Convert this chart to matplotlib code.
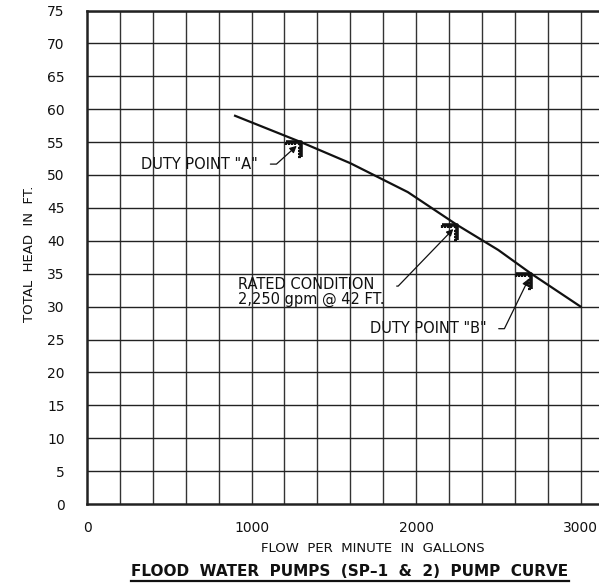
import matplotlib
matplotlib.use("Agg")
import matplotlib.pyplot as plt
from matplotlib.path import Path
from matplotlib.lines import Line2D

# --- DATA ---
flow_gpm = [900, 1100, 1300, 1600, 1950, 2250, 2500, 2700, 3000]
head_ft = [59.0, 57.0, 55.0, 51.8, 47.4, 42.4, 38.6, 35.0, 30.0]

point_names = ["DUTY POINT \"A\"", "RATED CONDITION\n2,250 gpm @ 42 FT.", "DUTY POINT \"B\""]
point_flow = [1300, 2250, 2700]
point_head = [55.0, 42.4, 35.0]

x_ticks = [0, 1000, 2000, 3000]
y_ticks = list(range(0, 80, 5))

# --- FIGURE ---
fig = plt.figure(figsize=(5.99, 5.87), dpi=100)
ax = fig.add_axes([87 / 599, 1 - 504 / 587, 1 - 87 / 599, (504 - 10.5) / 587])

ax.set_xlim(0, 3112)
ax.set_ylim(0, 75)

# grid every 200 gpm / 5 ft
for gx in range(200, 3200, 200):
    ax.axvline(gx, color="#333333", lw=1.0, zorder=1)
for gy in y_ticks[1:]:
    ax.axhline(gy, color="#222222", lw=1.0, zorder=1)

for side in ["left", "bottom", "top"]:
    ax.spines[side].set_linewidth(1.8)
    ax.spines[side].set_color("#222222")
ax.spines["right"].set_visible(False)

ax.set_xticks(x_ticks)
ax.set_yticks(y_ticks)
ax.tick_params(length=0, labelsize=10, colors="#111111")
ax.tick_params(axis="x", pad=12)
ax.tick_params(axis="y", pad=16)

# pump curve
ax.plot(flow_gpm, head_ft, color="#111111", lw=1.6, zorder=3)

# hatched corner marker at each point
corner = Path([(-1, 0), (0, 0), (0, -1)], [Path.MOVETO, Path.LINETO, Path.LINETO])
verts, codes = [], []
for k in range(5):
    t = -0.95 + k * 0.2
    verts += [(t, 0), (t, -0.18)]
    codes += [Path.MOVETO, Path.LINETO]
    verts += [(0, t), (-0.18, t)]
    codes += [Path.MOVETO, Path.LINETO]
hatch = Path(verts, codes)
for mk, mew in [(corner, 2.6), (hatch, 1.6)]:
    ax.plot(point_flow, point_head, ls="none", marker=mk, markersize=22,
            markeredgewidth=mew, markeredgecolor="#111111",
            markerfacecolor="none", zorder=4)

# leader notes: (text offset in pixels, relpos, angle of the slanted leg)
notes = [((-43, -22), (1, 0.5), 42),
         ((-73, -67), (1, 0.7), 46),
         ((-45, -55), (1, 0.5), 64)]
for name, fx, hy, (off, rel, ang) in zip(point_names, point_flow, point_head, notes):
    ax.annotate(name, xy=(fx, hy), xytext=off, textcoords="offset pixels",
                ha="right", va="center", ma="left", fontsize=10.5,
                linespacing=0.95, color="#111111", zorder=5,
                arrowprops=dict(arrowstyle="-|>", color="#111111", lw=0.9,
                                relpos=rel, shrinkA=7, shrinkB=4,
                                mutation_scale=10,
                                connectionstyle=f"angle,angleA=0,angleB={ang},rad=0"))

# axis titles
fig.text(30 / 599, 1 - 254 / 587, "TOTAL  HEAD  IN  FT.", rotation=90,
         ha="center", va="center", fontsize=9.5, color="#111111")
fig.text(373 / 599, 1 - 548 / 587, "FLOW  PER  MINUTE  IN  GALLONS",
         ha="center", va="center", fontsize=9.5, color="#111111")
title = fig.text(350 / 599, 1 - 571 / 587, "FLOOD  WATER  PUMPS  (SP\u20131  &  2)  PUMP  CURVE",
                 ha="center", va="center", fontsize=11, fontweight="bold", color="#111111")

# underline the title
fig.canvas.draw()
bb = title.get_window_extent().transformed(fig.transFigure.inverted())
fig.add_artist(Line2D([bb.x0, bb.x1], [bb.y0 - 0.004, bb.y0 - 0.004],
                      transform=fig.transFigure, color="#111111", lw=1.6))

fig.savefig("out.png", dpi=100)
